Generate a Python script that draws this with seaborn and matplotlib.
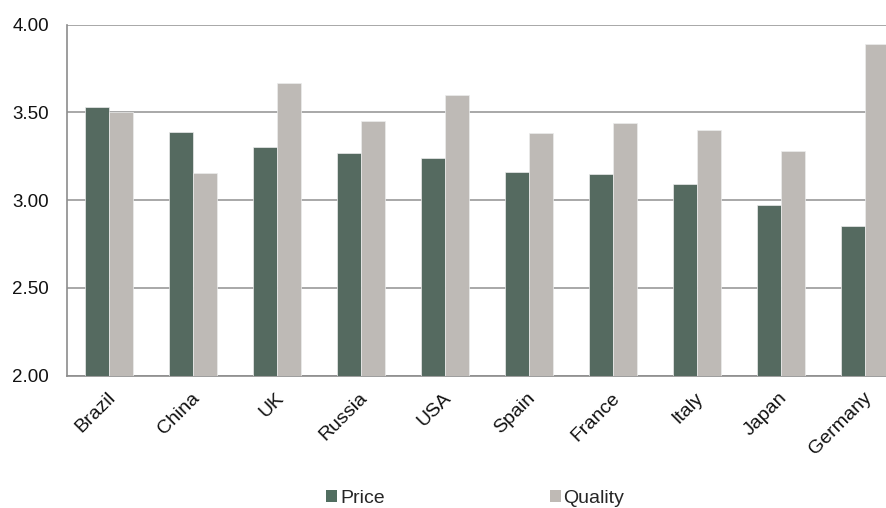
import matplotlib
matplotlib.use("Agg")
import matplotlib.pyplot as plt
from matplotlib.ticker import FixedLocator, MultipleLocator, FormatStrFormatter
from matplotlib.patches import Patch
from matplotlib.transforms import ScaledTranslation
import seaborn as sns
import pandas as pd

countries = ["Brazil", "China", "UK", "Russia", "USA", "Spain", "France", "Italy", "Japan", "Germany"]
price = [3.53, 3.39, 3.30, 3.27, 3.24, 3.16, 3.15, 3.09, 2.97, 2.85]
quality = [3.50, 3.155, 3.67, 3.45, 3.60, 3.38, 3.44, 3.40, 3.28, 3.89]
series = ["Price", "Quality"]
colors = {"Price": "#516e60", "Quality": "#bfbab5"}

df = pd.DataFrame({
    "country": countries * 2,
    "value": price + quality,
    "series": ["Price"] * len(countries) + ["Quality"] * len(countries),
})

sns.set_style("white")
plt.rcParams["font.family"] = ["Liberation Sans", "DejaVu Sans"]

fig = plt.figure(figsize=(8.87, 5.08), dpi=100)
ax = fig.add_axes([0.0755, 0.2608, 0.947, 0.6906])

sns.barplot(data=df, x="country", y="value", hue="series", order=countries,
            hue_order=series, palette=colors, width=0.571, gap=0,
            edgecolor="#ececec", linewidth=0.5, legend=False, ax=ax, zorder=3)

ax.set_xlim(-0.5, len(countries) - 0.5)
ax.set_ylim(2.0, 4.0)
ax.yaxis.set_major_locator(MultipleLocator(0.5))
ax.yaxis.set_major_formatter(FormatStrFormatter("%.2f"))
ax.grid(axis="y", color="#999999", linewidth=1.2, zorder=0)
ax.set_axisbelow(True)
ax.set_xlabel("")
ax.set_ylabel("")

for side in ["top", "right"]:
    ax.spines[side].set_visible(False)
for side in ["left", "bottom"]:
    ax.spines[side].set_color("#8c8c8c")
    ax.spines[side].set_linewidth(1.2)

ax.tick_params(axis="y", which="major", direction="out", length=5, width=1,
               color="#8c8c8c", labelsize=13.5, pad=8, labelcolor="#111111")
ax.tick_params(axis="x", which="major", length=0, labelsize=14, pad=10,
               labelcolor="#111111")
ax.xaxis.set_minor_locator(FixedLocator([i - 0.5 for i in range(len(countries) + 1)]))
ax.tick_params(axis="x", which="minor", direction="out", length=5, width=1,
               color="#8c8c8c")
shift = ScaledTranslation(-2 / 100, 0, fig.dpi_scale_trans)
for lbl in ax.get_xticklabels():
    lbl.set_rotation(45)
    lbl.set_ha("right")
    lbl.set_va("top")
    lbl.set_rotation_mode("anchor")
    lbl.set_transform(lbl.get_transform() + shift)

handles = [Patch(facecolor=colors[s], edgecolor="none") for s in series]
fig.legend(handles, series, loc="center", bbox_to_anchor=(0.536, 0.019),
           ncol=2, frameon=False, fontsize=14, handlelength=0.55,
           handleheight=0.55, handletextpad=0.15, columnspacing=8.5)

fig.savefig("out.png", dpi=100)
